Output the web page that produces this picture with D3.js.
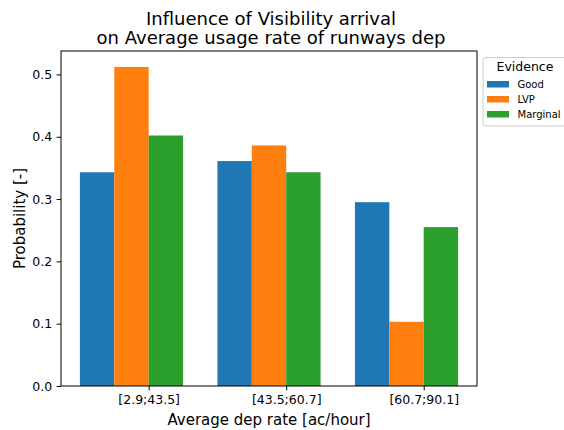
<!DOCTYPE html>
<html>
<head>
<meta charset="utf-8">
<script src="https://cdn.jsdelivr.net/npm/d3@7/dist/d3.min.js"></script>
<style>
  body { margin: 0; background: #fff; }
  text { font-family: "DejaVu Sans", sans-serif; fill: #000; }
</style>
</head>
<body>
<svg id="chart" width="564" height="430"></svg>
<script>
const categories = ["[2.9;43.5]", "[43.5;60.7]", "[60.7;90.1]"];
const seriesNames = ["Good", "LVP", "Marginal"];
const good = [0.343, 0.361, 0.295];
const lvp = [0.512, 0.386, 0.103];
const marginal = [0.402, 0.343, 0.255];
const colors = ["#1f77b4", "#ff7f0e", "#2ca02c"];
const yTicks = [0.0, 0.1, 0.2, 0.3, 0.4, 0.5];
const titleLines = ["Influence of Visibility arrival", "on Average usage rate of runways dep"];

const series = [good, lvp, marginal];
const barW = 0.25;

const svg = d3.select("#chart");
const L = 61, R = 477, T = 51, B = 386;

const maxV = d3.max(series.flat());
const x = d3.scaleLinear().domain([-0.1375, categories.length - 1 + 3 * barW + 0.1375]).range([L, R]);
const y = d3.scaleLinear().domain([0, maxV * 1.05]).range([B, T]);

// bars
series.forEach((vals, k) => {
  svg.append("g").selectAll("rect").data(vals).join("rect")
    .attr("x", (d, i) => x(i + k * barW))
    .attr("width", (d, i) => x(i + (k + 1) * barW) - x(i + k * barW))
    .attr("y", d => y(d))
    .attr("height", d => y(0) - y(d))
    .attr("fill", colors[k]);
});

// axes
const xAxis = d3.axisBottom(x)
  .tickValues(categories.map((c, i) => i + 1.5 * barW + 0.125))
  .tickFormat((d, i) => categories[i])
  .tickSize(4.4).tickPadding(4.5);
const gx = svg.append("g").attr("transform", `translate(0,${B})`).call(xAxis);
gx.select(".domain").remove();
gx.selectAll("text").attr("font-size", "12.5px").attr("font-family", "DejaVu Sans");
gx.selectAll("line").attr("stroke", "#000").attr("stroke-width", 1);

const yAxis = d3.axisLeft(y).tickValues(yTicks).tickFormat(d3.format(".1f"))
  .tickSize(4.4).tickPadding(4.5);
const gy = svg.append("g").attr("transform", `translate(${L},0)`).call(yAxis);
gy.select(".domain").remove();
gy.selectAll("text").attr("font-size", "12.5px").attr("font-family", "DejaVu Sans");
gy.selectAll("line").attr("stroke", "#000").attr("stroke-width", 1);

// frame
svg.append("rect").attr("x", L).attr("y", T).attr("width", R - L).attr("height", B - T)
  .attr("fill", "none").attr("stroke", "#000").attr("stroke-width", 1);

// titles
svg.append("g").selectAll("text").data(titleLines).join("text")
  .attr("x", (L + R) / 2 + 2).attr("y", (d, i) => 24.5 + i * 19.8)
  .attr("text-anchor", "middle").attr("font-size", "18px").text(d => d);

svg.append("text").attr("x", (L + R) / 2).attr("y", 424.5)
  .attr("text-anchor", "middle").attr("font-size", "15px").text("Average dep rate [ac/hour]");

svg.append("text").attr("transform", `translate(25,${(T + B) / 2}) rotate(-90)`)
  .attr("text-anchor", "middle").attr("font-size", "15px").text("Probability [-]");

// legend
const lg = svg.append("g");
lg.append("rect").attr("x", 483).attr("y", 57.5).attr("width", 86).attr("height", 68.5)
  .attr("rx", 3).attr("fill", "#fff").attr("stroke", "#ccc").attr("stroke-width", 1);
lg.append("text").attr("x", 525).attr("y", 71).attr("text-anchor", "middle")
  .attr("font-size", "12.5px").text("Evidence");
seriesNames.forEach((name, k) => {
  lg.append("rect").attr("x", 487).attr("y", 81 + k * 15).attr("width", 22).attr("height", 6.5)
    .attr("fill", colors[k]);
  lg.append("text").attr("x", 517.5).attr("y", 88 + k * 15).attr("font-size", "10px")
    .attr("fill", "#333").text(name);
});
</script>
</body>
</html>
